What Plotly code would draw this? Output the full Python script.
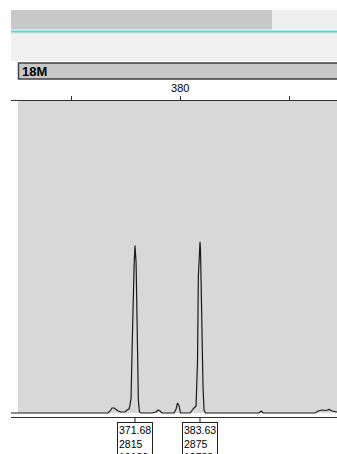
import plotly.graph_objects as go

# ---- data (size in bp, signal in RFU) ----
size_bp = [348.9, 366.73, 367.1, 367.48, 367.85, 368.22, 368.59, 369.12, 369.86, 370.22,
           370.59, 370.77, 370.96, 371.14, 371.33, 371.51, 371.68, 371.88, 372.06, 372.19,
           372.3, 372.5, 372.8, 374.81, 375.55, 375.92, 376.29, 376.65, 378.86, 379.23,
           379.5, 379.78, 380.05, 381.8, 382.17, 382.53, 382.9, 383.08, 383.17, 383.32,
           383.63, 383.72, 383.87, 384.0, 384.19, 384.37, 384.64, 394.49, 394.86, 395.23,
           404.78, 405.33, 406.06, 406.8, 407.35, 407.9, 408.45, 408.8]
signal_rfu = [0, 0, 34, 84, 84, 50, 34, 17, 17, 50,
              67, 134, 252, 1025, 1898, 2453, 2815, 2537, 1562, 638,
              218, 17, 0, 0, 17, 50, 34, 0, 0, 67,
              168, 118, 0, 0, 50, 84, 118, 554, 857, 2285,
              2875, 2738, 1898, 1529, 420, 50, 0, 0, 34, 0,
              0, 34, 50, 42, 59, 34, 17, 17]

peak_size = [371.68, 383.63]
peak_height = ["2815", "2875"]
peak_area = ["19180", "19780"]

tick_vals = [360, 380, 400]
tick_text = ["", "380", ""]
panel_title = "18M"

W, H = 337, 454


def px(x):
    return x / W


def py(y):
    return 1 - y / H


fig = go.Figure()
fig.add_trace(go.Scatter(x=size_bp, y=signal_rfu, mode="lines",
                         line=dict(color="#1a1a1a", width=1.2),
                         hoverinfo="skip", showlegend=False))

shapes = [
    dict(type="rect", xref="paper", yref="paper", x0=px(11), x1=px(272), y0=py(29.5), y1=py(10),
         fillcolor="#c8c8c8", line=dict(width=0), layer="below"),
    dict(type="rect", xref="paper", yref="paper", x0=px(272), x1=px(337), y0=py(29.5), y1=py(10),
         fillcolor="#eeeeee", line=dict(width=0), layer="below"),
    dict(type="rect", xref="paper", yref="paper", x0=px(11), x1=px(337), y0=py(32.5), y1=py(30.5),
         fillcolor="#3fe0e0", line=dict(width=0), layer="below"),
    dict(type="rect", xref="paper", yref="paper", x0=px(11), x1=px(337), y0=py(33.5), y1=py(32.5),
         fillcolor="#c4c4c4", line=dict(width=0), layer="below"),
    dict(type="rect", xref="paper", yref="paper", x0=px(11), x1=px(337), y0=py(61), y1=py(33.5),
         fillcolor="#f0f0f0", line=dict(width=0), layer="below"),
    dict(type="rect", xref="paper", yref="paper", x0=px(18.5), x1=px(340), y0=py(79), y1=py(63),
         fillcolor="#c8c8c8", line=dict(color="#404040", width=1.5), layer="below"),
    dict(type="rect", xref="paper", yref="paper", x0=px(18), x1=px(337), y0=py(413), y1=py(101),
         fillcolor="#d8d8d8", line=dict(width=0), layer="below"),
]

annotations = [
    dict(xref="paper", yref="paper", x=px(20), y=py(71), text="<b>%s</b>" % panel_title,
         showarrow=False, xanchor="left", yanchor="middle",
         font=dict(family="Liberation Sans, Arial", size=13, color="#000000")),
]
for s, h, a in zip(peak_size, peak_height, peak_area):
    annotations.append(dict(
        x=s, xref="x", y=py(417), yref="paper",
        text="%.2f<br>%s<br>%s" % (s, h, a), align="left",
        showarrow=True, arrowhead=0, arrowwidth=1, arrowcolor="#202020",
        ax=0, ay=26.5, bordercolor="#202020", borderwidth=1, borderpad=1,
        bgcolor="#ffffff",
        font=dict(family="Liberation Sans, Arial", size=10.5, color="#000000")))

x_lo = 348.9
x_hi = 408.8
y_lo = -67.2
y_hi = 5241.6

fig.update_layout(
    width=W, height=H, margin=dict(l=0, r=0, t=0, b=0),
    paper_bgcolor="#ffffff", plot_bgcolor="rgba(0,0,0,0)",
    shapes=shapes, annotations=annotations,
    xaxis=dict(domain=[px(11), 1], range=[x_lo, x_hi], side="top",
               tickvals=tick_vals, ticktext=tick_text, ticks="outside", ticklen=4,
               tickcolor="#303030", tickwidth=1, showline=True, linecolor="#303030",
               linewidth=1, mirror=True, showgrid=False, zeroline=False,
               tickfont=dict(family="Liberation Sans, Arial", size=11, color="#000000")),
    xaxis2=dict(overlaying="x", matches="x", side="top", anchor="y",
                tickvals=tick_vals, ticks="inside", ticklen=4, tickcolor="#303030",
                showticklabels=False, showline=False, showgrid=False, zeroline=False),
    yaxis=dict(domain=[py(417), py(101)], range=[y_lo, y_hi], showticklabels=False,
               showgrid=False, zeroline=False, showline=False, ticks=""),
    showlegend=False,
)

fig.write_html("out.html")
